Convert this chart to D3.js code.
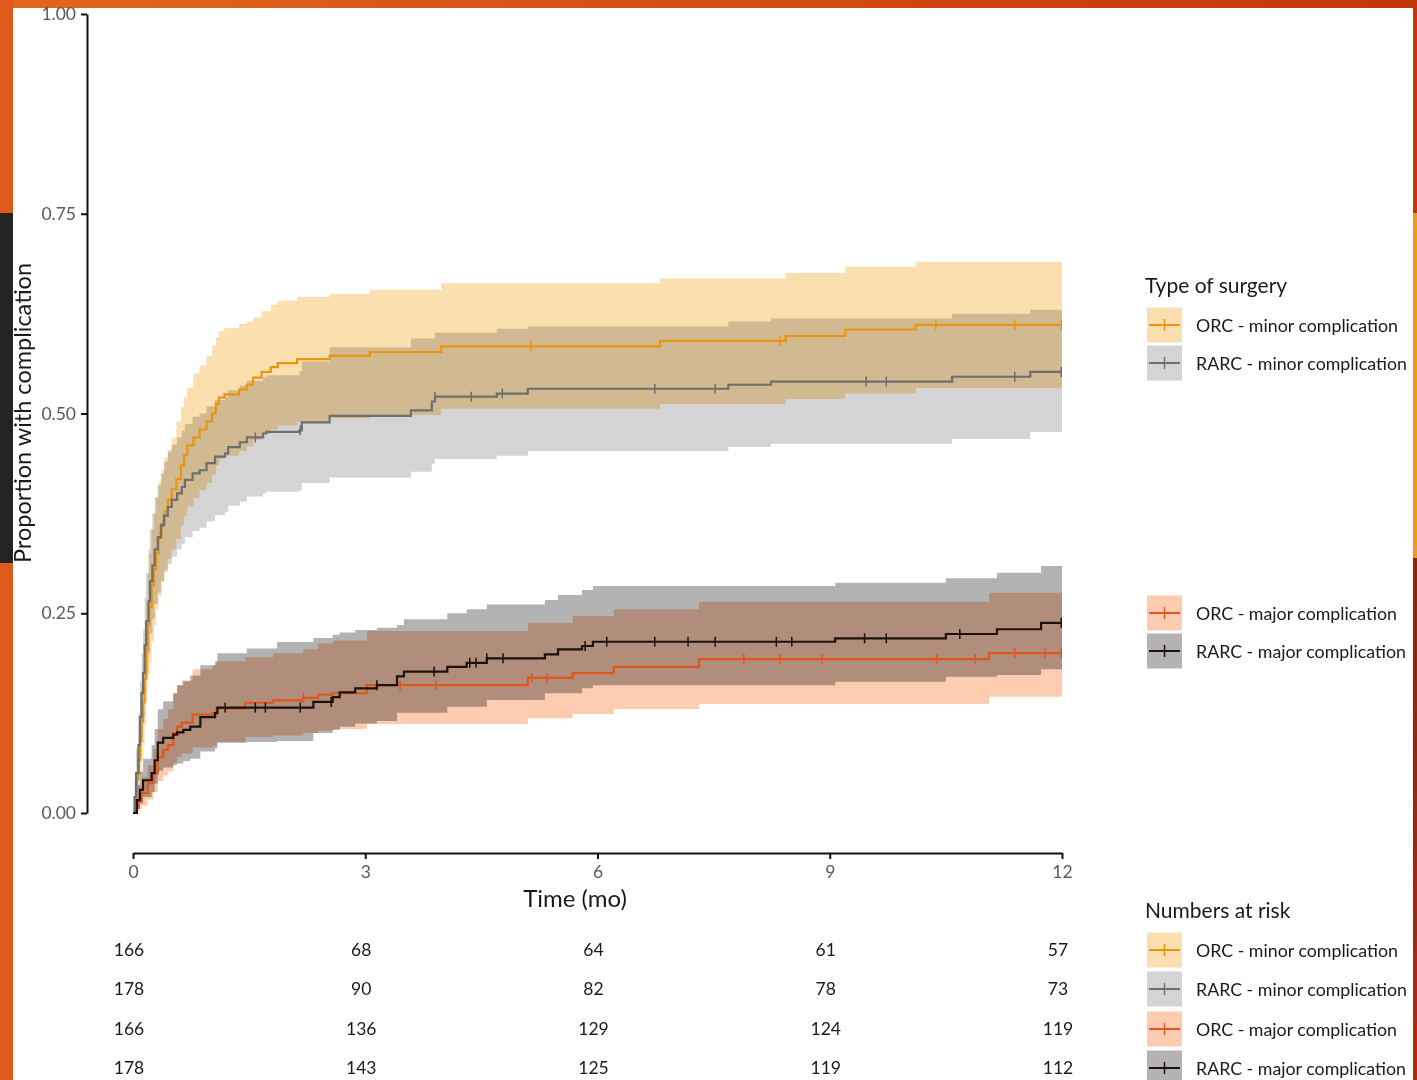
<!DOCTYPE html>
<html>
<head>
<meta charset="utf-8">
<script src="https://cdnjs.cloudflare.com/ajax/libs/d3/7.8.5/d3.min.js"></script>
<style>
  html, body { margin: 0; padding: 0; background: #ffffff; }
  svg { display: block; }
  .blend { mix-blend-mode: multiply; }
</style>
</head>
<body>
<svg id="chart" width="1417" height="1080"></svg>
<script>
// ---- Data: cumulative incidence step rows [time (mo), estimate, lower CI, upper CI] ----
const orcMinor = [
  [0, 0, 0, 0], [0.03, .018, .004, .035], [0.05, .042, .012, .07], [0.07, .066, .03, .10],
  [0.09, .090, .048, .13], [0.11, .114, .066, .16], [0.13, .138, .085, .19], [0.15, .168, .11, .225],
  [0.17, .205, .14, .265], [0.19, .235, .168, .30], [0.21, .258, .188, .325], [0.24, .285, .215, .355],
  [0.27, .305, .235, .375], [0.30, .325, .255, .395], [0.33, .345, .272, .415], [0.37, .362, .29, .43],
  [0.41, .378, .305, .445], [0.45, .392, .318, .455], [0.50, .405, .33, .47], [0.56, .418, .343, .49],
  [0.62, .435, .36, .508], [0.66, .448, .372, .52], [0.70, .460, .384, .532], [0.78, .470, .394, .55],
  [0.86, .480, .404, .56], [0.95, .490, .413, .572], [1.02, .500, .423, .585], [1.07, .512, .435, .595],
  [1.11, .520, .443, .603], [1.18, .524, .447, .607], [1.37, .530, .453, .612], [1.47, .536, .459, .615],
  [1.55, .545, .467, .620], [1.66, .552, .474, .628], [1.78, .558, .480, .636], [1.87, .563, .485, .641],
  [2.12, .568, .490, .646], [2.54, .572, .494, .650], [3.06, .577, .498, .655], [3.98, .584, .506, .663],
  [6.81, .591, .512, .669], [8.43, .597, .518, .676], [9.20, .605, .525, .684], [10.11, .611, .532, .690],
  [12, .611, .532, .690]
];
const rarcMinor = [
  [0, 0, 0, 0], [0.02, .02, .005, .04], [0.04, .05, .02, .08], [0.07, .085, .045, .125],
  [0.09, .12, .07, .165], [0.11, .15, .095, .20], [0.13, .175, .12, .23], [0.15, .21, .15, .27],
  [0.17, .24, .175, .30], [0.20, .265, .20, .33], [0.22, .29, .225, .355], [0.25, .31, .243, .375],
  [0.28, .33, .262, .395], [0.32, .345, .276, .41], [0.36, .36, .29, .425], [0.40, .372, .302, .44],
  [0.45, .383, .312, .452], [0.50, .392, .321, .461], [0.57, .400, .33, .47], [0.63, .408, .337, .478],
  [0.67, .417, .345, .487], [0.77, .425, .353, .496], [0.86, .429, .357, .50], [0.95, .438, .365, .509],
  [1.06, .446, .373, .517], [1.19, .450, .377, .521], [1.23, .458, .385, .529], [1.38, .464, .39, .535],
  [1.47, .470, .396, .541], [1.68, .475, .40, .546], [1.72, .477, .402, .548], [2.15, .479, .404, .553],
  [2.18, .489, .413, .565], [2.54, .497, .420, .583], [3.59, .504, .427, .594], [3.86, .515, .437, .594],
  [3.90, .521, .443, .601], [4.70, .525, .447, .606], [5.10, .531, .453, .609], [7.69, .536, .458, .615],
  [8.24, .540, .462, .619], [10.58, .546, .468, .625], [11.59, .552, .477, .630], [12, .552, .477, .630]
];
const orcMajor = [
  [0, 0, 0, 0], [0.04, .008, .001, .02], [0.07, .015, .004, .032], [0.11, .025, .009, .045],
  [0.19, .0375, .017, .06], [0.26, .05, .026, .08], [0.32, .07, .04, .105], [0.39, .079, .047, .118],
  [0.45, .085, .052, .13], [0.52, .10, .063, .15], [0.57, .108, .07, .16], [0.63, .113, .074, .166],
  [0.77, .123, .082, .18], [1.03, .125, .084, .185], [1.08, .131, .089, .19], [1.45, .138, .095, .195],
  [1.81, .141, .097, .20], [2.20, .144, .10, .205], [2.39, .148, .103, .212], [2.58, .150, .105, .216],
  [3.02, .160, .1114, .2277], [5.10, .169, .1185, .238], [5.68, .175, .1239, .2465], [6.21, .183, .1301, .2549],
  [7.31, .1927, .1364, .2644], [11.06, .2002, .1455, .2757], [12, .2002, .1455, .2757]
];
const rarcMajor = [
  [0, 0, 0, 0], [0.05, .016, .005, .035], [0.09, .029, .012, .052], [0.13, .041, .02, .068],
  [0.24, .05, .026, .085], [0.28, .066, .037, .105], [0.32, .088, .053, .13], [0.39, .094, .057, .14],
  [0.52, .098, .06, .15], [0.57, .101, .062, .16], [0.65, .104, .065, .165], [0.74, .108, .068, .172],
  [0.87, .12, .077, .185], [1.06, .125, .081, .19], [1.09, .132, .088, .20], [1.47, .132, .089, .206],
  [1.86, .132, .090, .214], [2.33, .139, .100, .219], [2.58, .145, .104, .223], [2.67, .151, .108, .226],
  [2.87, .156, .112, .229], [3.15, .160, .115, .232], [3.41, .171, .1255, .2352], [3.50, .177, .1255, .2424],
  [4.06, .183, .133, .2499], [4.31, .188, .133, .2549], [4.57, .1936, .1414, .2611], [5.32, .1986, .1498, .2665],
  [5.49, .2048, .1498, .2728], [5.80, .209, .156, .279], [5.94, .2143, .16, .284], [9.07, .2186, .1643, .2882],
  [10.50, .224, .1705, .2937], [11.16, .230, .1727, .3007], [11.73, .238, .1798, .309], [12, .238, .1798, .309]
];

// ---- Censoring times (mo) ----
const orcMinorCensor = [5.14, 8.36, 10.37, 11.39, 11.99];
const rarcMinorCensor = [1.58, 2.16, 3.90, 4.37, 4.77, 6.74, 7.52, 9.47, 9.73, 11.39, 11.99];
const orcMajorCensor = [2.20, 3.45, 3.91, 5.15, 5.35, 7.89, 8.36, 8.90, 10.38, 10.88, 11.39, 11.78, 11.99];
const rarcMajorCensor = [1.19, 1.58, 1.71, 2.16, 2.56, 3.15, 3.89, 4.35, 4.43, 4.57, 4.78, 5.84, 6.12, 6.74,
  7.17, 7.52, 8.31, 8.51, 9.45, 9.73, 10.68, 11.99];

// ---- Numbers at risk at each x tick ----
const riskTimes = [0, 3, 6, 9, 12];
const orcMinorRisk = [166, 68, 64, 61, 57];
const rarcMinorRisk = [178, 90, 82, 78, 73];
const orcMajorRisk = [166, 136, 129, 124, 119];
const rarcMajorRisk = [178, 143, 125, 119, 112];

// ---- Labels and ticks ----
const seriesNames = ["ORC - minor complication", "RARC - minor complication",
                     "ORC - major complication", "RARC - major complication"];
const yTicks = [0, 0.25, 0.5, 0.75, 1];
const xTicks = [0, 3, 6, 9, 12];

// ---- Styling ----
const lineColors = ["#e8950f", "#6e6e6e", "#e0561b", "#1e100a"];
const bandColors = ["#fcdfae", "#d4d4d4", "#fdcbb0", "#b3b3b3"];
const FONT = "Lato, 'Open Sans', sans-serif";

const series = [
  { rows: orcMinor, censor: orcMinorCensor, risk: orcMinorRisk },
  { rows: rarcMinor, censor: rarcMinorCensor, risk: rarcMinorRisk },
  { rows: orcMajor, censor: orcMajorCensor, risk: orcMajorRisk },
  { rows: rarcMajor, censor: rarcMajorCensor, risk: rarcMajorRisk }
];
series.forEach((s, i) => { s.name = seriesNames[i]; s.line = lineColors[i]; s.band = bandColors[i]; });

const svg = d3.select("#chart");

// ---- Slide frame ----
const defs = svg.append("defs");
const topGrad = defs.append("linearGradient").attr("id", "topGrad").attr("x1", 0).attr("x2", 1);
topGrad.append("stop").attr("offset", 0).attr("stop-color", "#e2661c");
topGrad.append("stop").attr("offset", 1).attr("stop-color", "#c4340b");
const rightGrad = defs.append("linearGradient").attr("id", "rightGrad").attr("x1", 0).attr("x2", 0).attr("y1", 0).attr("y2", 1);
rightGrad.append("stop").attr("offset", 0).attr("stop-color", "#8a2408");
rightGrad.append("stop").attr("offset", 1).attr("stop-color", "#b02a0a");

svg.append("rect").attr("x", 0).attr("y", 0).attr("width", 1417).attr("height", 8).attr("fill", "url(#topGrad)");
svg.append("rect").attr("x", 0).attr("y", 0).attr("width", 13).attr("height", 1080).attr("fill", "#dd5a1a");
svg.append("rect").attr("x", 0).attr("y", 213).attr("width", 13).attr("height", 350).attr("fill", "#232323");
svg.append("rect").attr("x", 1413).attr("y", 0).attr("width", 4).attr("height", 213).attr("fill", "#c4340b");
svg.append("rect").attr("x", 1413).attr("y", 213).attr("width", 4).attr("height", 345).attr("fill", "#f09a1a");
svg.append("rect").attr("x", 1413).attr("y", 558).attr("width", 4).attr("height", 522).attr("fill", "url(#rightGrad)");

// ---- Scales ----
const x = d3.scaleLinear().domain([0, 12]).range([133, 1062]);
const y = d3.scaleLinear().domain([0, 1]).range([813, 14]);

// ---- Confidence bands (multiplied so overlaps darken) ----
const band = d3.area()
  .curve(d3.curveStepAfter)
  .x(d => x(d[0]))
  .y0(d => y(d[2]))
  .y1(d => y(d[3]));
const bands = svg.append("g").style("isolation", "isolate");
bands.selectAll("path").data(series).join("path")
  .attr("class", "blend")
  .attr("d", d => band(d.rows))
  .attr("fill", d => d.band);

// ---- Step curves ----
const step = d3.line().curve(d3.curveStepAfter).x(d => x(d[0])).y(d => y(d[1]));
const curves = svg.append("g");
curves.selectAll("path").data(series).join("path")
  .attr("d", d => step(d.rows))
  .attr("fill", "none")
  .attr("stroke", d => d.line)
  .attr("stroke-width", 2.2);

// ---- Censor marks ----
function estimateAt(rows, t) {
  const i = d3.bisector(r => r[0]).right(rows, t) - 1;
  return rows[Math.max(0, i)][1];
}
const marks = svg.append("g");
series.forEach(s => {
  marks.selectAll(null).data(s.censor).join("line")
    .attr("x1", t => x(t)).attr("x2", t => x(t))
    .attr("y1", t => y(estimateAt(s.rows, t)) - 5)
    .attr("y2", t => y(estimateAt(s.rows, t)) + 5)
    .attr("stroke", s.line)
    .attr("stroke-width", 1.5);
});

// ---- Axes ----
const yAxis = svg.append("g").attr("transform", "translate(87,0)")
  .call(d3.axisLeft(y).tickValues(yTicks).tickFormat(d3.format(".2f")).tickSize(6).tickSizeOuter(0).tickPadding(5));
const xAxis = svg.append("g").attr("transform", "translate(0,853)")
  .call(d3.axisBottom(x).tickValues(xTicks).tickFormat(d3.format("d")).tickSize(6).tickSizeOuter(0).tickPadding(7));
[yAxis, xAxis].forEach(a => {
  a.select(".domain").attr("stroke", "#111").attr("stroke-width", 2);
  a.selectAll(".tick line").attr("stroke", "#111").attr("stroke-width", 2);
  a.selectAll(".tick text").attr("fill", "#5a5a5a").style("font-family", FONT).style("font-size", "17.5px");
});

// ---- Axis titles ----
svg.append("text").attr("x", 575).attr("y", 897)
  .attr("text-anchor", "middle").attr("dominant-baseline", "central")
  .style("font-family", FONT).style("font-size", "24px").attr("fill", "#1a1a1a")
  .text("Time (mo)");
svg.append("text").attr("transform", "translate(22,413) rotate(-90)")
  .attr("text-anchor", "middle").attr("dominant-baseline", "central")
  .style("font-family", FONT).style("font-size", "23.5px").attr("fill", "#1a1a1a")
  .text("Proportion with complication");

// ---- Legends ----
function legendKey(g, s, cy) {
  g.append("rect").attr("x", 1147).attr("y", cy - 17.5).attr("width", 35).attr("height", 35).attr("fill", s.band);
  g.append("line").attr("x1", 1149).attr("x2", 1180).attr("y1", cy).attr("y2", cy)
    .attr("stroke", s.line).attr("stroke-width", 2);
  g.append("line").attr("x1", 1164.5).attr("x2", 1164.5).attr("y1", cy - 6).attr("y2", cy + 6)
    .attr("stroke", s.line).attr("stroke-width", 1.5);
  g.append("text").attr("x", 1196).attr("y", cy).attr("dominant-baseline", "central")
    .style("font-family", FONT).style("font-size", "17.8px").attr("fill", "#1a1a1a")
    .text(s.name);
}
const legend = svg.append("g");
legend.append("text").attr("x", 1145).attr("y", 284).attr("dominant-baseline", "central")
  .style("font-family", FONT).style("font-size", "21px").attr("fill", "#1a1a1a").text("Type of surgery");
legendKey(legend, series[0], 325);
legendKey(legend, series[1], 363);
legendKey(legend, series[2], 613);
legendKey(legend, series[3], 651);

legend.append("text").attr("x", 1145).attr("y", 909).attr("dominant-baseline", "central")
  .style("font-family", FONT).style("font-size", "21px").attr("fill", "#1a1a1a").text("Numbers at risk");
const riskRowsY = [950, 989, 1029, 1068];
series.forEach((s, i) => legendKey(legend, s, riskRowsY[i]));

// ---- Numbers-at-risk table ----
const table = svg.append("g");
series.forEach((s, i) => {
  table.selectAll(null).data(riskTimes).join("text")
    .attr("x", (t) => x(t) - 4)
    .attr("y", riskRowsY[i] - 1)
    .attr("text-anchor", "middle").attr("dominant-baseline", "central")
    .style("font-family", FONT).style("font-size", "17.5px").attr("fill", "#1a1a1a")
    .text((t, j) => s.risk[j]);
});
</script>
</body>
</html>
